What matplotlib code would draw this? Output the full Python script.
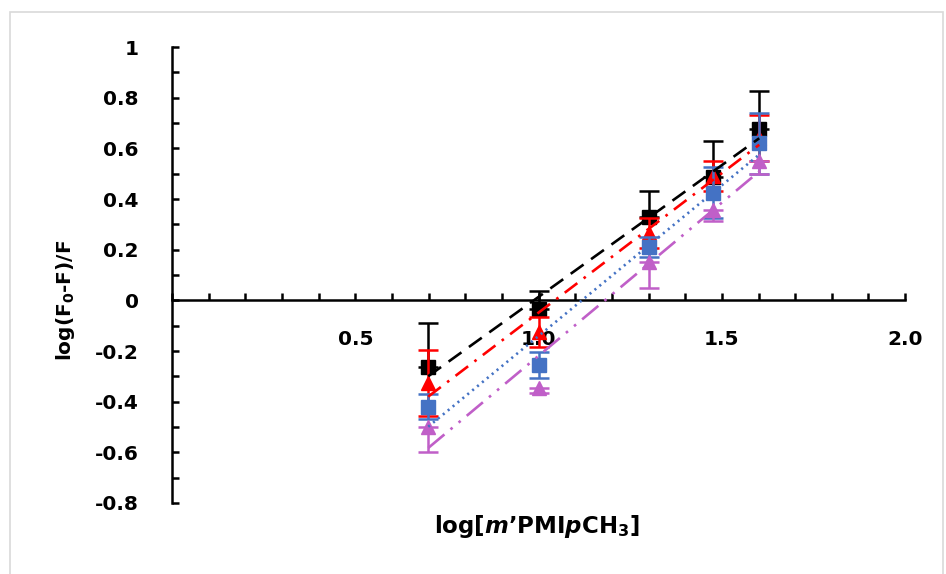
import numpy as np
import matplotlib
matplotlib.use("Agg")
from matplotlib import pyplot as plt
from matplotlib.ticker import MultipleLocator, FixedLocator, FuncFormatter
from matplotlib.patches import Rectangle

# log of concentrations
x_vals = [0.699, 1.0, 1.301, 1.477, 1.602]

black_y = [-0.265, -0.035, 0.33, 0.485, 0.675]
black_err = [0.175, 0.07, 0.10, 0.145, 0.15]

red_y = [-0.325, -0.125, 0.265, 0.49, 0.64]
red_err = [0.13, 0.06, 0.06, 0.06, 0.09]

blue_y = [-0.42, -0.255, 0.21, 0.425, 0.62]
blue_err = [0.05, 0.05, 0.04, 0.10, 0.12]

purple_y = [-0.50, -0.345, 0.15, 0.355, 0.55]
purple_err = [0.10, 0.02, 0.10, 0.04, 0.05]

y_ticks = [-0.8, -0.6, -0.4, -0.2, 0, 0.2, 0.4, 0.6, 0.8, 1]
x_ticks = [0.5, 1.0, 1.5, 2.0]

plt.rcParams['font.family'] = ['DejaVu Sans']
plt.rcParams['mathtext.fontset'] = 'custom'
plt.rcParams['mathtext.rm'] = 'DejaVu Sans:bold'
plt.rcParams['mathtext.it'] = 'DejaVu Sans:italic:bold'
plt.rcParams['mathtext.bf'] = 'DejaVu Sans:bold'

fig = plt.figure(figsize=(9.46, 5.74), dpi=100)
ax = fig.add_axes([0.1818, 0.1237, 0.775, 0.7944])

# chart border
fig.patches.append(Rectangle((10 / 946, -0.02), 933 / 946, 1.0 - 12 / 574 + 0.02,
                             transform=fig.transFigure, fill=False,
                             edgecolor='#d9d9d9', linewidth=1.2))

series = [
    (black_y, black_err, 'black', 's', (0, (6, 3.5)), 'upper'),
    (red_y, red_err, '#ff0000', '^', (0, (6, 3, 1, 3)), 'both'),
    (blue_y, blue_err, '#4472c4', 's', (0, (0.8, 1.6)), 'both'),
    (purple_y, purple_err, '#c05fc8', '^', (0, (8, 3, 1, 3, 1, 3)), 'lower'),
]

x = np.array(x_vals)
for i, (yv, ev, col, mk, ls, side) in enumerate(series):
    yv = np.array(yv)
    ev = np.array(ev)
    if side == 'upper':
        yerr = [np.zeros_like(ev), ev]
    elif side == 'lower':
        yerr = [ev, np.zeros_like(ev)]
    else:
        yerr = [ev, ev]
    ax.errorbar(x, yv, yerr=yerr, fmt=mk, color=col, ecolor=col,
                markersize=10, elinewidth=1.8, capsize=7, capthick=1.8,
                zorder=3 + i)
    k, b = np.polyfit(x, yv, 1)
    xs = np.array([x.min(), x.max()])
    ax.plot(xs, k * xs + b, color=col, linestyle=ls, linewidth=1.9,
            dash_capstyle='butt', solid_capstyle='butt', zorder=10 + i)

ax.set_xlim(0, 2.0)
ax.set_ylim(-0.8, 1.0)

for s in ['top', 'right']:
    ax.spines[s].set_visible(False)
ax.spines['bottom'].set_position(('data', 0))
ax.spines['left'].set_position(('data', 0))
ax.spines['bottom'].set_linewidth(1.8)
ax.spines['left'].set_linewidth(1.8)

ax.xaxis.set_major_locator(FixedLocator(x_ticks))
ax.xaxis.set_minor_locator(MultipleLocator(0.1))
ax.xaxis.set_major_formatter(FuncFormatter(lambda v, p: f"{v:.1f}"))
ax.yaxis.set_major_locator(FixedLocator(y_ticks))
ax.yaxis.set_minor_locator(MultipleLocator(0.1))
ax.yaxis.set_major_formatter(FuncFormatter(lambda v, p: f"{round(v, 1):g}"))

ax.tick_params(axis='x', which='both', direction='in', length=5, width=1.8, pad=21)
ax.tick_params(axis='y', which='both', direction='in', length=5, width=1.8, pad=24)
for lbl in ax.get_xticklabels() + ax.get_yticklabels():
    lbl.set_fontsize(14.5)
    lbl.set_fontweight('bold')

fig.text(65 / 946, 1 - 300 / 574, r'log(F$_0$-F)/F', rotation=90,
         ha='center', va='center', fontsize=14.5, fontweight='bold')
fig.text(537 / 946, 1 - 526 / 574, r'log[$m$’PMI$p$CH$_3$]',
         ha='center', va='center', fontsize=16.5, fontweight='bold')

fig.savefig('out.png', dpi=100)
